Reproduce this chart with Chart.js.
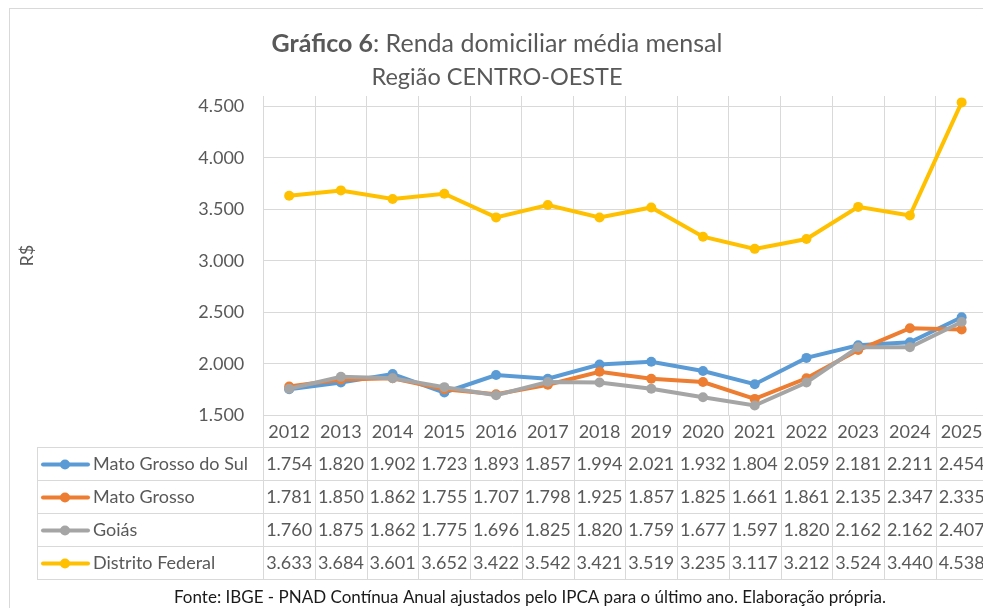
<!DOCTYPE html>
<html>
<head>
<meta charset="utf-8">
<script src="https://cdn.jsdelivr.net/npm/chart.js@4/dist/chart.umd.min.js"></script>
<style>
  html, body { margin: 0; padding: 0; overflow: hidden; background: #fff; }
  #wrap { width: 1000px; height: 608px; }
</style>
</head>
<body>
<div id="wrap"><canvas id="myChart" width="1000" height="608"></canvas></div>
<script>
const years = ["2012", "2013", "2014", "2015", "2016", "2017", "2018", "2019", "2020", "2021", "2022", "2023", "2024", "2025"];
const matoGrossoDoSul = [1754, 1820, 1902, 1723, 1893, 1857, 1994, 2021, 1932, 1804, 2059, 2181, 2211, 2454];
const matoGrosso = [1781, 1850, 1862, 1755, 1707, 1798, 1925, 1857, 1825, 1661, 1861, 2135, 2347, 2335];
const goias = [1760, 1875, 1862, 1775, 1696, 1825, 1820, 1759, 1677, 1597, 1820, 2162, 2162, 2407];
const distritoFederal = [3633, 3684, 3601, 3652, 3422, 3542, 3421, 3519, 3235, 3117, 3212, 3524, 3440, 4538];
const yTicks = [1500, 2000, 2500, 3000, 3500, 4000, 4500];

const FONT = "Lato, 'Open Sans', sans-serif";
const TEXT = "#595959";
const GRID = "#d9d9d9";

const formatBR = (v) => {
  const s = String(Math.round(v));
  return s.replace(/\B(?=(\d{3})+(?!\d))/g, ".");
};

const series = [
  { label: "Mato Grosso do Sul", data: matoGrossoDoSul, color: "#5b9bd5", order: 3 },
  { label: "Mato Grosso", data: matoGrosso, color: "#ed7d31", order: 2 },
  { label: "Goiás", data: goias, color: "#a5a5a5", order: 1 },
  { label: "Distrito Federal", data: distritoFederal, color: "#ffc000", order: 0 },
];

// table rows (y of horizontal lines)
const tableTop = 447;
const rowH = 33;
const tableLeft = 37;

const dataTablePlugin = {
  id: "dataTable",
  beforeDraw(chart) {
    const ctx = chart.ctx;
    ctx.save();
    ctx.fillStyle = "#fff";
    ctx.fillRect(0, 0, chart.width, chart.height);
    ctx.strokeStyle = GRID;
    ctx.lineWidth = 1;
    ctx.strokeRect(9.5, 8.5, chart.width + 20, chart.height + 20);
    ctx.restore();
  },
  afterDraw(chart) {
    const ctx = chart.ctx;
    const area = chart.chartArea;
    const xScale = chart.scales.x;
    const n = years.length;
    const colW = (area.right - area.left) / n;
    const tableBottom = tableTop + rowH * series.length;
    ctx.save();

    // grid of the table
    ctx.strokeStyle = GRID;
    ctx.lineWidth = 1;
    ctx.beginPath();
    for (let i = 0; i <= n; i++) {
      const x = Math.round(area.left + i * colW) + 0.5;
      ctx.moveTo(x, area.bottom);
      ctx.lineTo(x, tableBottom);
    }
    ctx.moveTo(tableLeft + 0.5, tableTop);
    ctx.lineTo(tableLeft + 0.5, tableBottom);
    for (let r = 0; r <= series.length; r++) {
      const y = tableTop + r * rowH + 0.5;
      ctx.moveTo(tableLeft, y);
      ctx.lineTo(area.right, y);
    }
    ctx.stroke();

    // rows: legend key + values
    ctx.font = `18px ${FONT}`;
    ctx.textBaseline = "middle";
    series.forEach((s, r) => {
      const cy = tableTop + r * rowH + rowH / 2 + 1;
      ctx.strokeStyle = s.color;
      ctx.lineWidth = 4;
      ctx.lineCap = "round";
      ctx.beginPath();
      ctx.moveTo(43, cy);
      ctx.lineTo(88, cy);
      ctx.stroke();
      ctx.fillStyle = s.color;
      ctx.beginPath();
      ctx.arc(65, cy, 5, 0, Math.PI * 2);
      ctx.fill();

      ctx.fillStyle = TEXT;
      ctx.textAlign = "left";
      ctx.fillText(s.label, 93, cy);
      ctx.textAlign = "center";
      s.data.forEach((v, i) => {
        ctx.fillText(formatBR(v), xScale.getPixelForValue(i), cy);
      });
    });

    // title
    const cx = 497;
    ctx.fillStyle = TEXT;
    ctx.textBaseline = "middle";
    const bold = "Gráfico 6";
    const rest = ": Renda domiciliar média mensal";
    ctx.font = `bold 25px ${FONT}`;
    const wb = ctx.measureText(bold).width;
    ctx.font = `25px ${FONT}`;
    const wr = ctx.measureText(rest).width;
    const x0 = cx - (wb + wr) / 2;
    ctx.textAlign = "left";
    ctx.font = `bold 25px ${FONT}`;
    ctx.fillText(bold, x0, 44);
    ctx.font = `25px ${FONT}`;
    ctx.fillText(rest, x0 + wb, 44);
    ctx.textAlign = "center";
    ctx.font = `23.5px ${FONT}`;
    ctx.fillText("Região CENTRO-OESTE", cx, 77);

    // source
    ctx.fillStyle = "#1a1a1a";
    ctx.font = `17px ${FONT}`;
    ctx.fillText("Fonte: IBGE - PNAD Contínua Anual ajustados pelo IPCA para o último ano. Elaboração própria.", 530, 598);
    ctx.restore();
  },
};

const ctx = document.getElementById("myChart");
const Data = {
  labels: years,
  datasets: series.map((s) => ({
    label: s.label,
    data: s.data,
    order: s.order,
    borderColor: s.color,
    backgroundColor: s.color,
    pointBackgroundColor: s.color,
    pointBorderColor: s.color,
    borderWidth: 4,
    pointRadius: 5,
    pointBorderWidth: 0,
    tension: 0,
  })),
};
const Config = {
  type: "line",
  data: Data,
  options: {
    responsive: false,
    animation: false,
    layout: { padding: { left: 12, right: 12.5, top: 96, bottom: 161 } },
    plugins: {
      legend: { display: false },
      tooltip: { enabled: false },
      title: { display: false },
    },
    scales: {
      x: {
        offset: true,
        grid: { offset: true, color: GRID, drawTicks: false },
        border: { color: GRID },
        ticks: { color: TEXT, font: { family: FONT, size: 18 }, padding: 6, maxRotation: 0 },
        afterFit: (scale) => { scale.height = 31.5; },
      },
      y: {
        min: 1500,
        max: 4600,
        afterBuildTicks: (scale) => { scale.ticks = yTicks.map((v) => ({ value: v })); },
        grid: { color: GRID, drawTicks: false },
        border: { color: GRID },
        ticks: { color: TEXT, font: { family: FONT, size: 18 }, padding: 19, callback: (v) => formatBR(v) },
        title: { display: true, text: "R$", color: TEXT, font: { family: FONT, size: 18 }, padding: { top: 4, bottom: 0 } },
        afterFit: (scale) => { scale.width = 251.3; },
      },
    },
  },
  plugins: [dataTablePlugin],
};
const myChart = new Chart(ctx, Config);
</script>
</body>
</html>
